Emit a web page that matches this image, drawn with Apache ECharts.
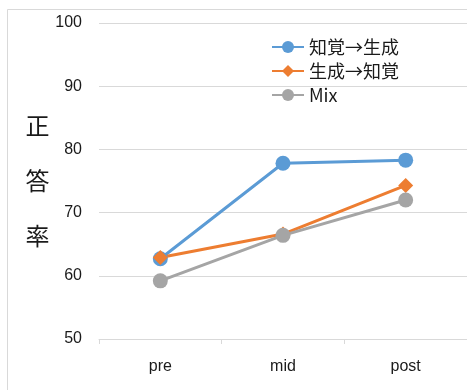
<!DOCTYPE html>
<html>
<head>
<meta charset="utf-8">
<script src="https://cdn.jsdelivr.net/npm/echarts@6/dist/echarts.min.js"></script>
<style>
  html, body { margin: 0; padding: 0; background: #fff; }
  #chart { width: 467px; height: 390px; }
</style>
</head>
<body>
<div id="chart"></div>
<script>
// Phases of the session
const categories = ['pre', 'mid', 'post'];

// Correct-answer rate (%) per training order
const perceiveToProduce = [62.7, 77.8, 78.3];
const produceToPerceive = [62.9, 66.6, 74.3];
const mixed = [59.2, 66.4, 72.0];

const seriesNames = ['知覚→生成', '生成→知覚', 'Mix'];
const yTicks = { min: 50, max: 100, step: 10 };

const fontLatin = '"Liberation Sans", "Noto Sans CJK JP", sans-serif';
const fontCJK = '"Noto Sans CJK JP", "Liberation Sans", sans-serif';
const gridColor = '#d9d9d9';
const textColor = '#1a1a1a';

const chart = echarts.init(document.getElementById('chart'));

function lineSeries(name, data, color, symbol, size) {
  return {
    name: name,
    type: 'line',
    data: data,
    symbol: symbol,
    symbolSize: size,
    lineStyle: { color: color, width: 3 },
    itemStyle: { color: color },
    emphasis: { disabled: true },
    animation: false
  };
}

chart.setOption({
  backgroundColor: '#fff',
  textStyle: { fontFamily: fontLatin },
  graphic: [{
    type: 'rect',
    shape: { x: 7.5, y: 9.5, width: 500, height: 420 },
    style: { fill: 'none', stroke: gridColor, lineWidth: 1 },
    silent: true,
    z: -10
  }],
  grid: { left: 99, top: 23, width: 372, height: 316 },
  legend: {
    data: seriesNames,
    orient: 'vertical',
    left: 266,
    top: 33,
    itemWidth: 32,
    itemHeight: 15,
    itemGap: 6,
    textStyle: { fontFamily: fontCJK, fontSize: 18, color: textColor }
  },
  xAxis: {
    type: 'category',
    data: categories,
    boundaryGap: true,
    axisLine: { show: true, lineStyle: { color: gridColor, width: 1 } },
    axisTick: { show: true, length: 5, lineStyle: { color: gridColor } },
    axisLabel: { fontSize: 16, color: textColor, margin: 20, fontFamily: fontLatin },
    splitLine: { show: false }
  },
  yAxis: {
    type: 'value',
    min: yTicks.min,
    max: yTicks.max,
    interval: yTicks.step,
    name: '正\n答\n率',
    nameLocation: 'middle',
    nameRotate: 0,
    nameGap: 56,
    nameTextStyle: {
      fontFamily: fontCJK, fontSize: 24, color: textColor,
      lineHeight: 55, align: 'center', verticalAlign: 'middle'
    },
    axisLine: { show: false },
    axisTick: { show: false },
    axisLabel: { fontSize: 16, color: textColor, margin: 17, fontFamily: fontLatin },
    splitLine: { lineStyle: { color: gridColor, width: 1 } }
  },
  series: [
    lineSeries(seriesNames[0], perceiveToProduce, '#5b9bd5', 'circle', 15),
    lineSeries(seriesNames[1], produceToPerceive, '#ed7d31', 'diamond', 15),
    lineSeries(seriesNames[2], mixed, '#a5a5a5', 'circle', 15)
  ]
});
</script>
</body>
</html>
